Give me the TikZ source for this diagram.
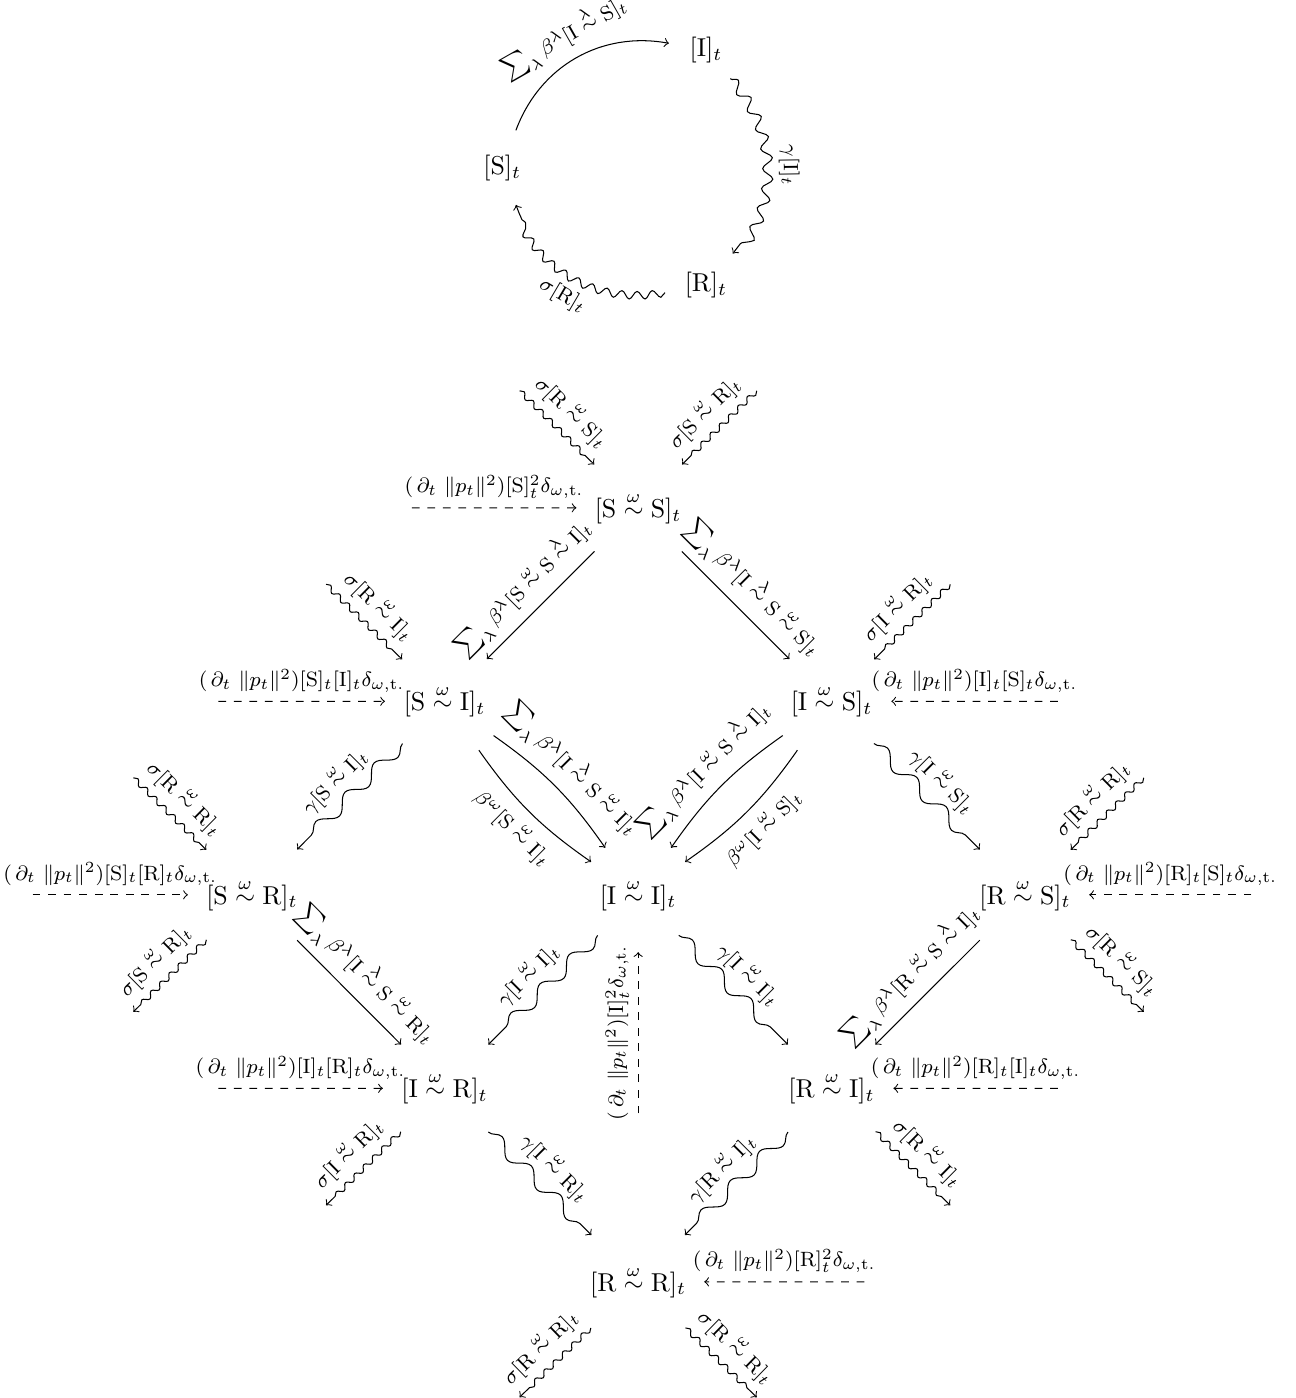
\documentclass[tikz,border=0pt]{standalone}
\usepackage{amsmath}
\usetikzlibrary{decorations.pathmorphing}

\newcommand{\simw}{\overset{\omega}{\sim}}
\newcommand{\siml}{\overset{\lambda}{\sim}}
\newcommand{\blam}{\mathop{\mbox{\normalsize$\sum$}}\nolimits_\lambda\beta^\lambda}
\newcommand{\flux}[1]{(\,\partial_t\ \|p_t\|^2)#1\delta_{\omega,\mathrm{t.}}}

\tikzset{
  pop/.style={circle,inner sep=4.5pt},
  lab/.style={midway,sloped,above,font=\footnotesize},
  inlab/.style={midway,above,font=\footnotesize},
  sig/.style={->,decorate,decoration={snake,amplitude=1pt,segment length=5pt,post length=1.2mm}},
  gam/.style={->,decorate,decoration={snake,amplitude=2.5pt,segment length=16pt,post length=1.2mm}}
}

\begin{document}
\begin{tikzpicture}[scale=1.06]
\useasboundingbox (-8.18,-6.45) rectangle (8.42,11.47);

\node[pop] (S) at (-1.74,9.32) {$[\mathrm{S}]_t$};
\node[pop] (I) at (0.87,10.83) {$[\mathrm{I}]_t$};
\node[pop] (R) at (0.87,7.81) {$[\mathrm{R}]_t$};

\draw[->] (S) to[bend left=40] node[lab] {$\blam[\mathrm{I}\siml\mathrm{S}]_t$} (I);
\draw[gam,decoration={amplitude=2pt,segment length=8pt}] (I) to[bend left=40] node[lab,above=2pt] {$\gamma[\mathrm{I}]_t$} (R);
\draw[sig,decoration={amplitude=1.5pt,segment length=6pt}] (R) to[bend left=40] node[lab,below=1pt] {$\sigma[\mathrm{R}]_t$} (S);

\node[pop] (SS) at (0,4.96) {$[\mathrm{S}\simw\mathrm{S}]_t$};
\node[pop] (SI) at (-2.48,2.48) {$[\mathrm{S}\simw\mathrm{I}]_t$};
\node[pop] (IS) at (2.48,2.48) {$[\mathrm{I}\simw\mathrm{S}]_t$};
\node[pop] (SR) at (-4.95,0) {$[\mathrm{S}\simw\mathrm{R}]_t$};
\node[pop] (II) at (0,0) {$[\mathrm{I}\simw\mathrm{I}]_t$};
\node[pop] (RS) at (4.96,0) {$[\mathrm{R}\simw\mathrm{S}]_t$};
\node[pop] (IR) at (-2.48,-2.48) {$[\mathrm{I}\simw\mathrm{R}]_t$};
\node[pop] (RI) at (2.48,-2.48) {$[\mathrm{R}\simw\mathrm{I}]_t$};
\node[pop] (RR) at (0,-4.96) {$[\mathrm{R}\simw\mathrm{R}]_t$};

\coordinate (SSnw) at (-1.52,6.46);
\coordinate (SSne) at (1.52,6.46);
\coordinate (SSw) at (-2.9,4.96);
\coordinate (SInw) at (-4.0,3.98);
\coordinate (SIw) at (-5.38,2.48);
\coordinate (ISne) at (4.0,3.98);
\coordinate (ISe) at (5.38,2.48);
\coordinate (SRnw) at (-6.47,1.5);
\coordinate (SRw) at (-7.76,0);
\coordinate (SRsw) at (-6.47,-1.5);
\coordinate (IIs) at (0,-2.8);
\coordinate (RSne) at (6.48,1.5);
\coordinate (RSe) at (7.86,0);
\coordinate (RSse) at (6.48,-1.5);
\coordinate (IRw) at (-5.38,-2.48);
\coordinate (IRsw) at (-4.0,-3.98);
\coordinate (RIe) at (5.38,-2.48);
\coordinate (RIse) at (4.0,-3.98);
\coordinate (RRe) at (2.9,-4.96);
\coordinate (RRsw) at (-1.52,-6.44);
\coordinate (RRse) at (1.52,-6.44);

\draw[sig] (SSnw) -- node[lab] {$\sigma[\mathrm{R}\simw\mathrm{S}]_t$} (SS);
\draw[sig] (SSne) -- node[lab] {$\sigma[\mathrm{S}\simw\mathrm{R}]_t$} (SS);
\draw[->,dashed] (SSw) -- node[inlab] {$\flux{[\mathrm{S}]^2_t}$} (SS);
\draw[->] (SS) -- node[lab] {$\blam[\mathrm{S}\simw\mathrm{S}\siml\mathrm{I}]_t$} (SI);
\draw[->] (SS) -- node[lab] {$\blam[\mathrm{I}\siml\mathrm{S}\simw\mathrm{S}]_t$} (IS);

\draw[sig] (SInw) -- node[lab] {$\sigma[\mathrm{R}\simw\mathrm{I}]_t$} (SI);
\draw[->,dashed] (SIw) -- node[inlab] {$\flux{[\mathrm{S}]_t[\mathrm{I}]_t}$} (SI);
\draw[gam] (SI) -- node[lab] {$\gamma[\mathrm{S}\simw\mathrm{I}]_t$} (SR);
\draw[->] (SI) to[bend left=10] node[lab] {$\blam[\mathrm{I}\siml\mathrm{S}\simw\mathrm{I}]_t$} (II);
\draw[->] (SI) to[bend right=10] node[lab,below] {$\beta^\omega[\mathrm{S}\simw\mathrm{I}]_t$} (II);

\draw[sig] (ISne) -- node[lab] {$\sigma[\mathrm{I}\simw\mathrm{R}]_t$} (IS);
\draw[->,dashed] (ISe) -- node[inlab] {$\flux{[\mathrm{I}]_t[\mathrm{S}]_t}$} (IS);
\draw[gam] (IS) -- node[lab] {$\gamma[\mathrm{I}\simw\mathrm{S}]_t$} (RS);
\draw[->] (IS) to[bend right=10] node[lab] {$\blam[\mathrm{I}\simw\mathrm{S}\siml\mathrm{I}]_t$} (II);
\draw[->] (IS) to[bend left=10] node[lab,below] {$\beta^\omega[\mathrm{I}\simw\mathrm{S}]_t$} (II);

\draw[sig] (SRnw) -- node[lab] {$\sigma[\mathrm{R}\simw\mathrm{R}]_t$} (SR);
\draw[->,dashed] (SRw) -- node[inlab] {$\flux{[\mathrm{S}]_t[\mathrm{R}]_t}$} (SR);
\draw[sig] (SR) -- node[lab] {$\sigma[\mathrm{S}\simw\mathrm{R}]_t$} (SRsw);
\draw[->] (SR) -- node[lab] {$\blam[\mathrm{I}\siml\mathrm{S}\simw\mathrm{R}]_t$} (IR);

\draw[->,dashed] (IIs) -- node[lab] {$\flux{[\mathrm{I}]^2_t}$} (II);
\draw[gam] (II) -- node[lab] {$\gamma[\mathrm{I}\simw\mathrm{I}]_t$} (IR);
\draw[gam] (II) -- node[lab] {$\gamma[\mathrm{I}\simw\mathrm{I}]_t$} (RI);

\draw[sig] (RSne) -- node[lab] {$\sigma[\mathrm{R}\simw\mathrm{R}]_t$} (RS);
\draw[->,dashed] (RSe) -- node[inlab] {$\flux{[\mathrm{R}]_t[\mathrm{S}]_t}$} (RS);
\draw[sig] (RS) -- node[lab] {$\sigma[\mathrm{R}\simw\mathrm{S}]_t$} (RSse);
\draw[->] (RS) -- node[lab] {$\blam[\mathrm{R}\simw\mathrm{S}\siml\mathrm{I}]_t$} (RI);

\draw[->,dashed] (IRw) -- node[inlab] {$\flux{[\mathrm{I}]_t[\mathrm{R}]_t}$} (IR);
\draw[sig] (IR) -- node[lab] {$\sigma[\mathrm{I}\simw\mathrm{R}]_t$} (IRsw);
\draw[gam] (IR) -- node[lab] {$\gamma[\mathrm{I}\simw\mathrm{R}]_t$} (RR);

\draw[->,dashed] (RIe) -- node[inlab] {$\flux{[\mathrm{R}]_t[\mathrm{I}]_t}$} (RI);
\draw[sig] (RI) -- node[lab] {$\sigma[\mathrm{R}\simw\mathrm{I}]_t$} (RIse);
\draw[gam] (RI) -- node[lab] {$\gamma[\mathrm{R}\simw\mathrm{I}]_t$} (RR);

\draw[->,dashed] (RRe) -- node[inlab] {$\flux{[\mathrm{R}]^2_t}$} (RR);
\draw[sig] (RR) -- node[lab] {$\sigma[\mathrm{R}\simw\mathrm{R}]_t$} (RRsw);
\draw[sig] (RR) -- node[lab] {$\sigma[\mathrm{R}\simw\mathrm{R}]_t$} (RRse);
\end{tikzpicture}
\end{document}
